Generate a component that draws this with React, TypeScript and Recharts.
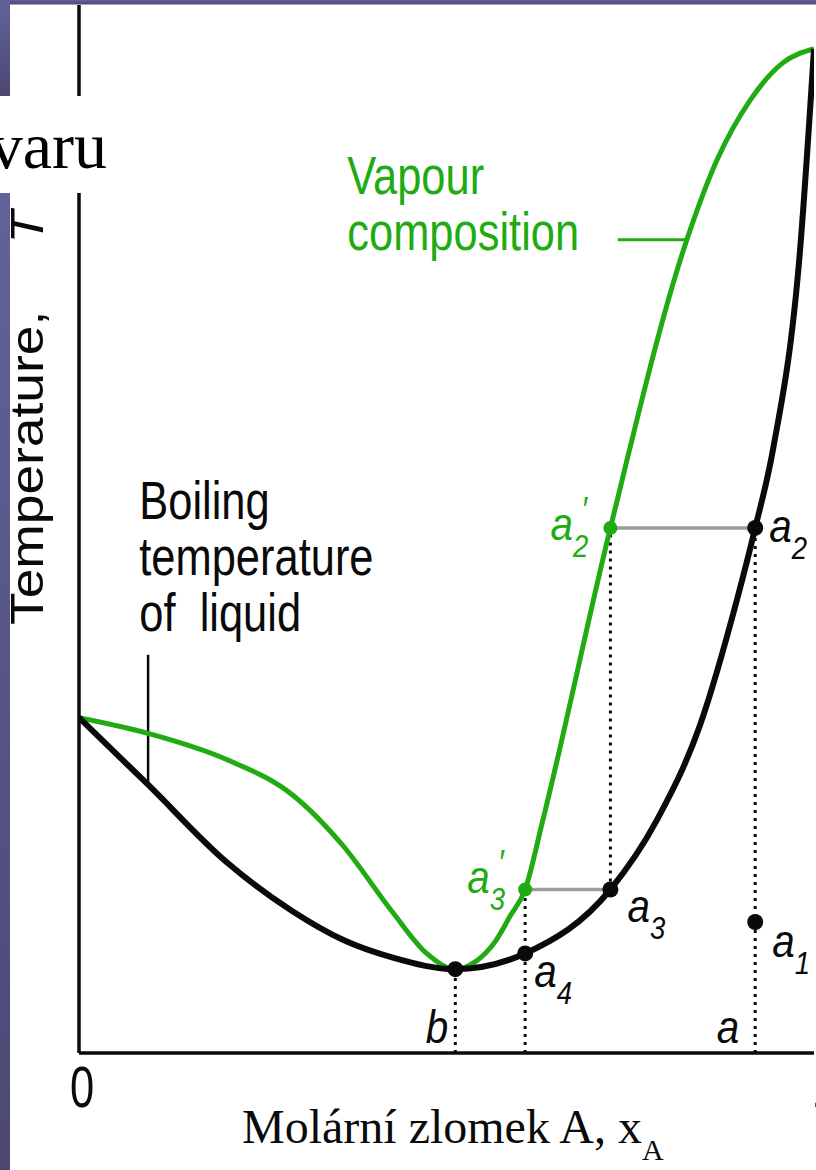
import React from 'react';
import { ComposedChart, Line, Scatter, XAxis, YAxis, ReferenceLine } from 'recharts';

// ---------- data (x = mole fraction of A, T = temperature, arbitrary units) ----------
const liquidX = [0, 0.094, 0.201, 0.291, 0.359, 0.427, 0.512, 0.607, 0.723, 0.786, 0.845, 0.895, 0.92, 0.944, 0.981, 1.0];
const liquidT = [32.0, 25.6, 18.2, 13.5, 10.8, 9.1, 8.0, 9.5, 15.6, 22.2, 31.3, 43.2, 50.1, 57.5, 76.6, 95.8];

const vapourX = [0, 0.094, 0.201, 0.291, 0.359, 0.427, 0.473, 0.512, 0.539, 0.566, 0.586, 0.607, 0.631, 0.723, 0.827, 0.868, 0.913, 0.958, 1.0];
const vapourT = [32.0, 30.5, 28.0, 24.6, 19.8, 13.4, 9.5, 8.0, 8.7, 10.6, 13.0, 15.6, 22.2, 50.1, 77.6, 85.2, 90.9, 94.5, 95.8];

const liquidPointNames = ['b', 'a4', 'a3', 'a2', 'a1'];
const liquidPointX = [0.512, 0.607, 0.723, 0.92, 0.92];
const liquidPointT = [8.0, 9.5, 15.6, 50.1, 12.5];

const vapourPointNames = ["a3'", "a2'"];
const vapourPointX = [0.607, 0.723];
const vapourPointT = [15.6, 50.1];

const footNames = ['b', 'a'];
const footX = [0.512, 0.92];

const xTicks = [0, 1];

// ---------- styles ----------
const GREEN = '#21ab12';
const BLACK = '#0a0a0a';
const GRAY = '#9c9c9c';
const SANS = "'Liberation Sans', Arial, sans-serif";
const SERIF = "'Liberation Serif', 'Times New Roman', serif";
const NARROW_SCALE = 0.82;

const LABEL_OFFSET: Record<string, { dx: number; dy: number }> = {
  a4: { dx: 9, dy: 34 },
  a3: { dx: 17, dy: 32 },
  a2: { dx: 14, dy: 14 },
  a1: { dx: 17, dy: 35 },
  "a3'": { dx: -58, dy: 3 },
  "a2'": { dx: -60, dy: 12 },
};
const FOOT_OFFSET: Record<string, number> = { b: -7, a: -16 };

const liquid = liquidX.map((x, i) => ({ x, T: liquidT[i] }));
const vapour = vapourX.map((x, i) => ({ x, T: vapourT[i] }));
const liquidPoints = liquidPointNames.map((name, i) => ({ name, x: liquidPointX[i], T: liquidPointT[i] }));
const vapourPoints = vapourPointNames.map((name, i) => ({ name, x: vapourPointX[i], T: vapourPointT[i] }));
const feet = footNames.map((name, i) => ({ name, x: footX[i], T: 0 }));

const annotations = [
  { key: 'vap', x: 0.365, T: 82.0, lines: ['Vapour', 'composition'], color: GREEN },
  { key: 'liq', x: 0.082, T: 51.0, lines: ['Boiling', 'temperature', 'of  liquid'], color: BLACK },
];

function PointLabelText({ x, y, name, color }: { x: number; y: number; name: string; color: string }) {
  const base = name[0];
  const sub = name.length > 1 ? name[1] : '';
  const prime = name.includes("'");
  return (
    <text transform={`translate(${x},${y}) scale(0.86,1)`} x={0} y={0} fill={color} fontFamily={SANS} fontStyle="italic" fontSize={47}>
      {base}
      {sub && (
        <tspan fontSize={32} dy={17}>
          {sub}
        </tspan>
      )}
      {prime && (
        <tspan fontSize={36} dy={-36} dx={-8}>
          {'\u2032'}
        </tspan>
      )}
    </text>
  );
}

function makePointShape(color: string, r: number) {
  return (props: any) => {
    const { cx, cy } = props;
    const name: string = props.payload?.name ?? props.name;
    const off = LABEL_OFFSET[name];
    return (
      <g>
        <circle cx={cx} cy={cy} r={r} fill={color} />
        {off && <PointLabelText x={cx + off.dx} y={cy + off.dy} name={name} color={color} />}
      </g>
    );
  };
}

const FootShape = (props: any) => {
  const { cx, cy } = props;
  const name: string = props.payload?.name ?? props.name;
  return (
    <text
      transform={`translate(${cx + (FOOT_OFFSET[name] ?? 0)},${cy - 10}) scale(0.86,1)`}
      x={0}
      y={0}
      textAnchor="end"
      fill={BLACK}
      fontFamily={SANS}
      fontStyle="italic"
      fontSize={47}
    >
      {name}
    </text>
  );
};

const AnnotationShape = (props: any) => {
  const { cx, cy } = props;
  const p = props.payload ?? props;
  return (
    <text transform={`translate(${cx},${cy}) scale(${NARROW_SCALE},1)`} x={0} y={0} fill={p.color} fontFamily={SANS} fontSize={53} style={{ whiteSpace: 'pre' }}>
      {p.lines.map((l: string, i: number) => (
        <tspan key={i} x={0} dy={i === 0 ? 0 : 56}>
          {l}
        </tspan>
      ))}
    </text>
  );
};

const XTick = (props: any) => {
  const { x, y, payload } = props;
  const dx = payload.value === 0 ? 3 : 12;
  return (
    <text transform={`translate(${x + dx},${y + 54}) scale(0.75,1)`} x={0} y={0} textAnchor="middle" fill={BLACK} fontFamily={SANS} fontSize={58}>
      {payload.value}
    </text>
  );
};

const YLabel = (props: any) => {
  const vb = props.viewBox || { x: 0, y: 0 };
  const x = vb.x + 43;
  const y = 625;
  return (
    <text transform={`translate(${x},${y}) rotate(-90) scale(1.16,1)`} x={0} y={0} fill={BLACK} fontFamily={SANS} fontSize={46}>
      Temperature,
      <tspan dx={58} fontStyle="italic">
        T
      </tspan>
    </text>
  );
};

const XLabel = () => (
  <text x={242} y={1143} fill={BLACK} fontFamily={SERIF} fontSize={48}>
    Molární zlomek A, x
    <tspan fontSize={30} dy={17}>
      A
    </tspan>
  </text>
);

const DOT_STYLE = { stroke: BLACK, strokeWidth: 3, strokeDasharray: '3 5' };

export default function App() {
  return (
    <div style={{ position: 'absolute', left: 0, top: 0, width: 816, height: 1170, background: '#fff' }}>
      <ComposedChart width={816} height={1170} margin={{ top: 5, right: 2, bottom: 0, left: 0 }}>
        <XAxis
          type="number"
          dataKey="x"
          domain={[0, 1]}
          ticks={xTicks}
          allowDataOverflow
          height={117}
          tickLine={false}
          tickSize={0}
          tickMargin={0}
          tick={<XTick />}
          axisLine={{ stroke: BLACK, strokeWidth: 3.5 }}
          label={<XLabel />}
        />
        <YAxis
          type="number"
          dataKey="T"
          domain={[0, 100]}
          allowDataOverflow
          width={79}
          tick={false}
          tickLine={false}
          axisLine={{ stroke: BLACK, strokeWidth: 3.5 }}
          label={<YLabel />}
        />
        {/* dotted composition lines */}
        <ReferenceLine segment={[{ x: footX[0], y: 0 }, { x: liquidPointX[0], y: liquidPointT[0] }]} {...DOT_STYLE} ifOverflow="visible" />
        <ReferenceLine segment={[{ x: vapourPointX[0], y: 0 }, { x: vapourPointX[0], y: vapourPointT[0] }]} {...DOT_STYLE} ifOverflow="visible" />
        <ReferenceLine segment={[{ x: liquidPointX[2], y: liquidPointT[2] }, { x: vapourPointX[1], y: vapourPointT[1] }]} {...DOT_STYLE} ifOverflow="visible" />
        <ReferenceLine segment={[{ x: footX[1], y: 0 }, { x: liquidPointX[3], y: liquidPointT[3] }]} {...DOT_STYLE} ifOverflow="visible" />
        {/* tie lines */}
        <ReferenceLine segment={[{ x: vapourPointX[0], y: vapourPointT[0] }, { x: liquidPointX[2], y: liquidPointT[2] }]} stroke={GRAY} strokeWidth={3.5} ifOverflow="visible" />
        <ReferenceLine segment={[{ x: vapourPointX[1], y: vapourPointT[1] }, { x: liquidPointX[3], y: liquidPointT[3] }]} stroke={GRAY} strokeWidth={3.5} ifOverflow="visible" />
        {/* annotation pointers */}
        <ReferenceLine segment={[{ x: 0.094, y: 25.6 }, { x: 0.094, y: 38.0 }]} stroke={BLACK} strokeWidth={2.5} ifOverflow="visible" />
        <ReferenceLine segment={[{ x: 0.733, y: 77.6 }, { x: 0.827, y: 77.6 }]} stroke={GREEN} strokeWidth={3} ifOverflow="visible" />

        <Line data={vapour} dataKey="T" type="monotone" stroke={GREEN} strokeWidth={5} dot={false} isAnimationActive={false} />
        <Line data={liquid} dataKey="T" type="monotone" stroke={BLACK} strokeWidth={6} dot={false} isAnimationActive={false} />

        <Scatter data={liquidPoints} dataKey="T" shape={makePointShape(BLACK, 8)} isAnimationActive={false} />
        <Scatter data={vapourPoints} dataKey="T" shape={makePointShape(GREEN, 7)} isAnimationActive={false} />
        <Scatter data={feet} dataKey="T" shape={FootShape} isAnimationActive={false} />
        <Scatter data={annotations} dataKey="T" shape={AnnotationShape} isAnimationActive={false} />
      </ComposedChart>

      <svg width={816} height={1170} style={{ position: 'absolute', left: 0, top: 0, pointerEvents: 'none' }}>
        <defs>
          <linearGradient id="slideBg" x1="0" y1="0" x2="0" y2="1">
            <stop offset="0" stopColor="#62629a" />
            <stop offset="1" stopColor="#4c4873" />
          </linearGradient>
        </defs>
        <rect x={0} y={0} width={816} height={4.5} fill="url(#slideBg)" />
        <rect x={0} y={0} width={10} height={96} fill="url(#slideBg)" />
        <rect x={0} y={193} width={10} height={977} fill="url(#slideBg)" />
        <rect x={0} y={96} width={130} height={97} fill="#ffffff" />
        <text x={107} y={168} textAnchor="end" fill="#000" fontFamily={SERIF} fontSize={66}>
          varu
        </text>
      </svg>
    </div>
  );
}
